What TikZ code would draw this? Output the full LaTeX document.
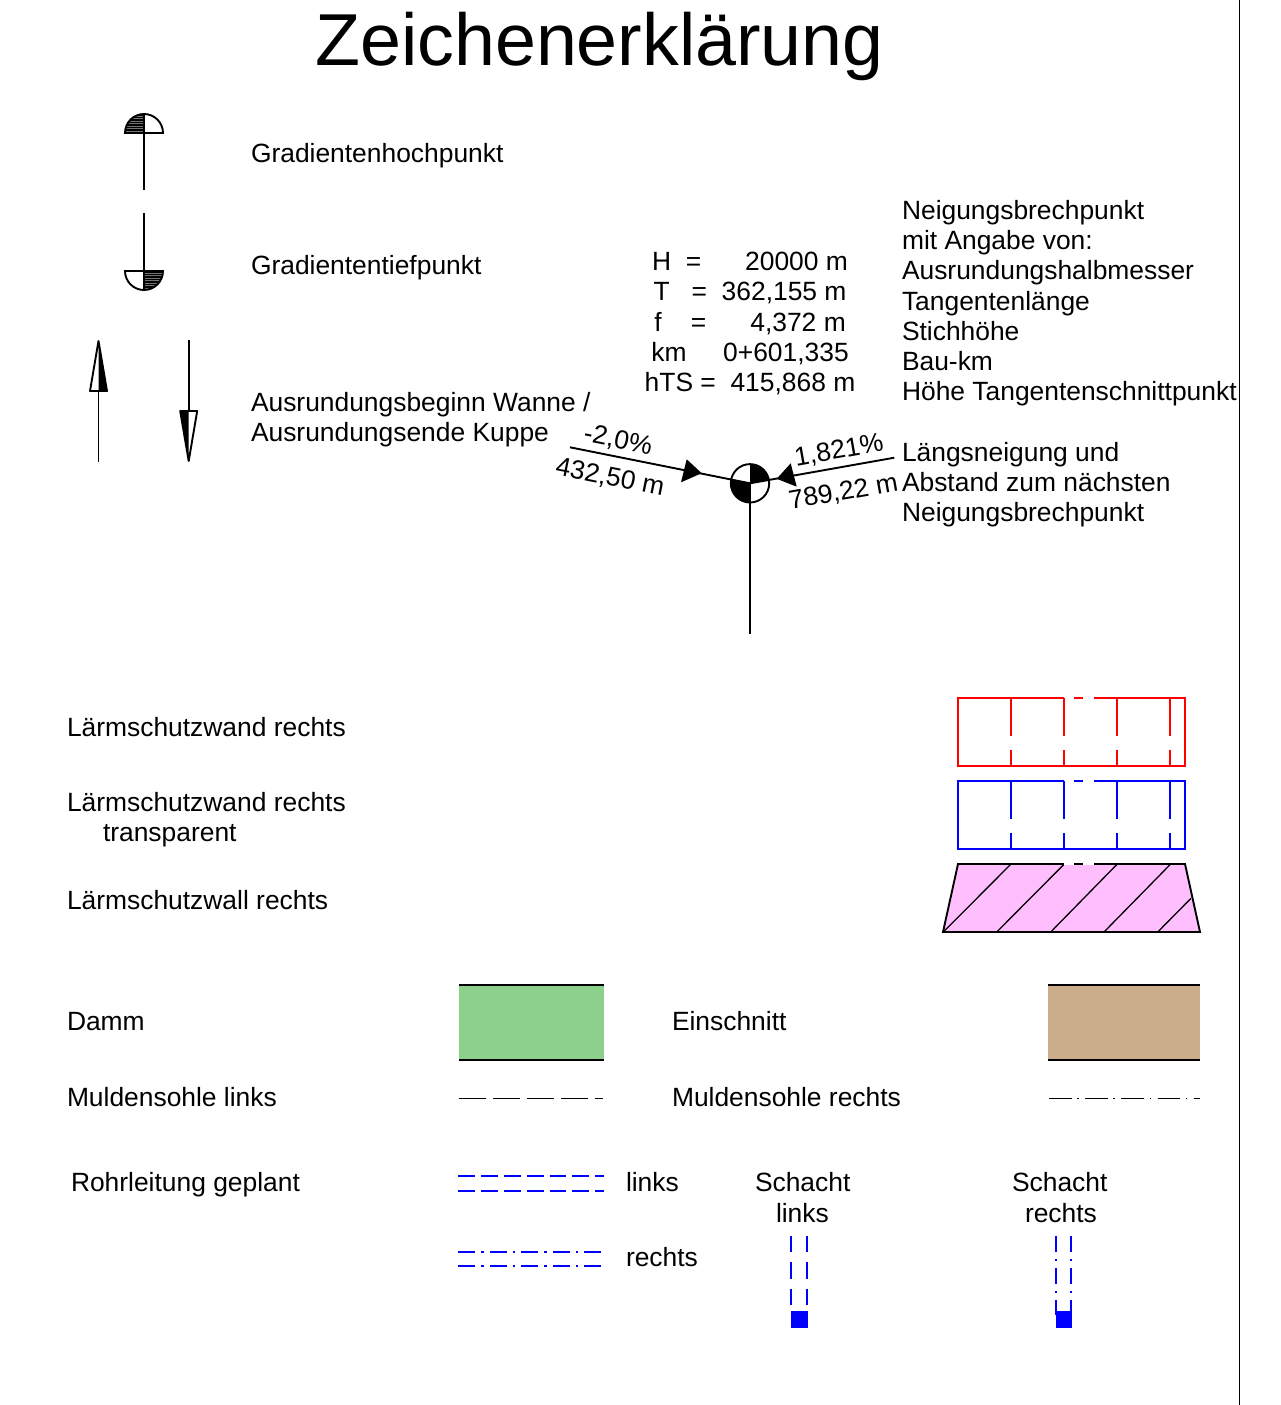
\documentclass[tikz,border=0pt]{standalone}
\usepackage{fontspec}
\setmainfont{Liberation Sans}
\definecolor{dammgreen}{RGB}{139,208,139}
\definecolor{cutbrown}{RGB}{203,172,139}
\definecolor{wallpink}{RGB}{255,191,255}
\tikzset{
  lbl/.style={anchor=base west,inner sep=0pt,outer sep=0pt,font=\fontsize{26.4}{30}\selectfont},
  ctr/.style={anchor=base,inner sep=0pt,outer sep=0pt,font=\fontsize{26.4}{30}\selectfont},
  rot/.style={anchor=center,inner sep=0pt,outer sep=0pt,font=\fontsize{26.4}{30}\selectfont},
  ln/.style={line width=1.9pt,black},
  tn/.style={line width=1.3pt,black},
  blu/.style={line width=1.9pt,blue},
  hatchline/.style={line width=0.4pt,white,opacity=0.45},
}
\begin{document}
\begin{tikzpicture}[x=1pt,y=-1pt]
\useasboundingbox (0,0) rectangle (1281,1405);
\fill[white] (0,0) rectangle (1281,1405);
\draw[ln] (1239.5,0) -- (1239.5,1405);
% title
\node[anchor=base west,inner sep=0pt,font=\fontsize{73.6}{80}\selectfont] (title) at (315,66) {Zeichenerklärung};
% Hochpunkt
\fill[black] (125,133) .. controls (125,122.5) and (133.5,114) .. (144,114) -- (144,133) -- cycle;
\foreach \h in {116,118.5,...,131}{\draw[hatchline] (126,\h) -- (143,\h);}
\draw[ln] (125,133) .. controls (125,122.5) and (133.5,114) .. (144,114) .. controls (154.5,114) and (163,122.5) .. (163,133) -- cycle;
\draw[ln] (144,114) -- (144,190);
% Tiefpunkt
\fill[black] (144,271) -- (163,271) .. controls (163,281.5) and (154.5,290) .. (144,290) -- cycle;
\foreach \h in {273,275.5,...,288}{\draw[hatchline] (145,\h) -- (162,\h);}
\draw[ln] (125,271) .. controls (125,281.5) and (133.5,290) .. (144,290) .. controls (154.5,290) and (163,281.5) .. (163,271) -- cycle;
\draw[ln] (144,213) -- (144,290);
% Pfeile
\draw[ln] (98.5,391) -- (98.5,462);
\fill[black] (98.5,341) -- (107,391) -- (98.5,391) -- cycle;
\draw[ln,line join=round] (98.5,341) -- (90,391) -- (107,391) -- cycle;
\draw[ln] (188.7,340) -- (188.7,411);
\fill[black] (188.7,461) -- (180.2,411) -- (188.7,411) -- cycle;
\draw[ln,line join=round] (188.7,461) -- (180.2,411) -- (197.2,411) -- cycle;
\node[lbl] (hoch) at (251,162) {Gradientenhochpunkt};
\node[lbl] (tief) at (251,274) {Gradiententiefpunkt};
\node[lbl] (ausa) at (251,411) {Ausrundungsbeginn Wanne /};
\node[lbl] (ausb) at (251,441) {Ausrundungsende Kuppe};
% Neigungsbrechpunkt-Symbol
\coordinate (C) at (750,483.3);
\coordinate (Lend) at (570,447.3);
\coordinate (Rend) at (894.3,457.7);
\coordinate (Send) at (750,634);
\begin{scope}
\clip (C) -- (720,477.3) -- (720,510) -- (750,510) -- cycle;
\fill[black] (C) circle[radius=19.2pt];
\end{scope}
\begin{scope}
\clip (C) -- (780,478) -- (780,460) -- (750,460) -- cycle;
\fill[black] (C) circle[radius=19.2pt];
\end{scope}
\draw[ln] (C) circle[radius=19.2pt];
\draw[ln] (Lend) -- (C);
\draw[ln] (Rend) -- (C);
\draw[ln] (C) -- (Send);
\fill[black] (701.7,473.2) -- (686.7,459.3) -- (681,482.3) -- cycle;
\fill[black] (776.7,478.8) -- (790.7,463.3) -- (796.7,486.7) -- cycle;
\node[rot,rotate=-11.3] (sl) at (618,440.5) {-2,0\%};
\node[rot,rotate=-11.3] (dl) at (610,478) {432,50 m};
\node[rot,rotate=10] (sr) at (839,451) {1,821\%};
\node[rot,rotate=10] (dr) at (843.5,492.5) {789,22 m};
% Werte
\node[ctr] (v1) at (750,270) {H~~=~~~~~~20000 m};
\node[ctr] (v2) at (750,300) {T~~~=~~362,155 m};
\node[ctr] (v3) at (750,331) {f~~~~=~~~~~~4,372 m};
\node[ctr] (v4) at (750,361) {km~~~~~0+601,335};
\node[ctr] (v5) at (750,391) {hTS =~~415,868 m};
\node[lbl] (n1) at (902,219) {Neigungsbrechpunkt};
\node[lbl] (n2) at (902,249) {mit Angabe von:};
\node[lbl] (n3) at (902,279) {Ausrundungshalbmesser};
\node[lbl] (n4) at (902,310) {Tangentenlänge};
\node[lbl] (n5) at (902,340) {Stichhöhe};
\node[lbl] (n6) at (902,370) {Bau-km};
\node[lbl] (n7) at (902,400) {Höhe Tangentenschnittpunkt};
\node[lbl] (n8) at (902,461) {Längsneigung und};
\node[lbl] (n9) at (902,491) {Abstand zum nächsten};
\node[lbl] (n10) at (902,521) {Neigungsbrechpunkt};
% Laermschutz
\foreach \c/\o in {red/0,blue/83}{
  \draw[line width=1.9pt,\c,line join=miter] (1064.3,698+\o) -- (958,698+\o) -- (958,766+\o) -- (1185.3,766+\o) -- (1185.3,698+\o) -- (1093.7,698+\o);
  \draw[line width=1.9pt,\c] (1074.3,698+\o) -- (1083.3,698+\o);
  \foreach \x in {1011,1064.3,1117,1169.7}{
    \draw[line width=1.9pt,\c] (\x,698+\o) -- (\x,736+\o);
    \draw[line width=1.9pt,\c] (\x,750+\o) -- (\x,766+\o);
  }
}
\fill[wallpink] (958,864) -- (1185,864) -- (1200,932) -- (943,932) -- cycle;
\draw[tn] (943.3,932) -- (1011,864);
\draw[tn] (996.7,932) -- (1064.3,864);
\draw[tn] (1050.7,932) -- (1117.3,864);
\draw[tn] (1104,932) -- (1170.7,864);
\draw[tn] (1157.7,932) -- (1191,898.3);
\draw[ln,line join=miter] (1064.3,864) -- (958,864) -- (943,932) -- (1200,932) -- (1185,864) -- (1093.7,864);
\fill[white] (1064.3,862.9) rectangle (1093.7,865.4);
\draw[ln] (1074.3,864) -- (1083.3,864);
\node[lbl] (l1) at (67,736) {Lärmschutzwand rechts};
\node[lbl] (l2) at (67,811) {Lärmschutzwand rechts};
\node[lbl] (l3) at (103,841) {transparent};
\node[lbl] (l4) at (67,909) {Lärmschutzwall rechts};
% Damm / Einschnitt
\fill[dammgreen] (459,985) rectangle (603.5,1060);
\draw[ln] (459,985) -- (603.5,985);
\draw[ln] (459,1060) -- (603.5,1060);
\fill[cutbrown] (1048,985) rectangle (1200,1060);
\draw[ln] (1048,985) -- (1200,985);
\draw[ln] (1048,1060) -- (1200,1060);
\node[lbl] (d1) at (67,1030) {Damm};
\node[lbl] (d2) at (672,1030) {Einschnitt};
% Muldensohle
\draw[ln,dash pattern=on 26.5pt off 7.5pt] (459.3,1098.5) -- (603,1098.5);
\draw[ln,dash pattern=on 22.7pt off 5.5pt on 1.5pt off 6.5pt] (1049,1098.5) -- (1200,1098.5);
\node[lbl] (m1) at (67,1106) {Muldensohle links};
\node[lbl] (m2) at (672,1106) {Muldensohle rechts};
% Rohrleitung
\foreach \yy in {1176,1190.7}{
  \draw[blu,dash pattern=on 16.8pt off 6pt] (458.3,\yy) -- (603.7,\yy);
}
\foreach \yy in {1251.7,1266.3}{
  \draw[blu,dash pattern=on 17pt off 6pt on 2.5pt off 6pt] (458.3,\yy) -- (602.5,\yy);
}
\node[lbl] (r0) at (71,1191) {Rohrleitung geplant};
\node[lbl] (r1) at (626,1191) {links};
\node[lbl] (r2) at (626,1266) {rechts};
% Schacht
\foreach \x in {791.3,806.7}{
  \draw[blu,dash pattern=on 16.5pt off 10pt] (\x,1235.7) -- (\x,1305);
}
\fill[blue] (790.7,1310.7) rectangle (807.7,1327.7);
\foreach \x in {1056,1071.3}{
  \draw[blu,dash pattern=on 16.5pt off 6.5pt on 2.5pt off 6.5pt] (\x,1235.7) -- (\x,1315);
}
\fill[blue] (1056,1311) rectangle (1071.7,1327.7);
\node[lbl] (s1) at (755,1191) {Schacht};
\node[lbl] (s2) at (776,1222) {links};
\node[lbl] (s3) at (1012,1191) {Schacht};
\node[lbl] (s4) at (1025,1222) {rechts};
\end{tikzpicture}
\end{document}
